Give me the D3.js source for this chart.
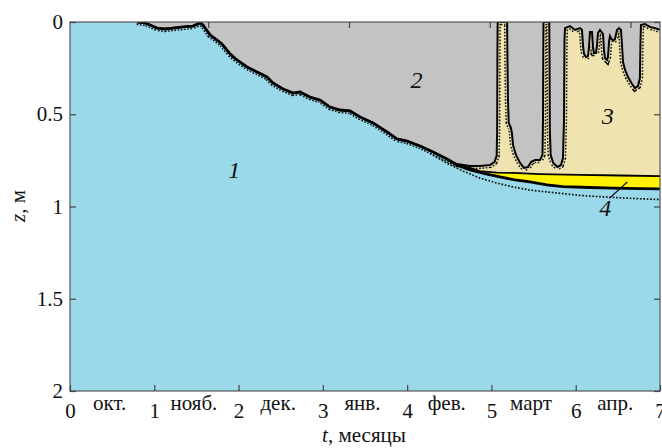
<!DOCTYPE html>
<html><head><meta charset="utf-8">
<script src="https://cdn.jsdelivr.net/npm/d3@7"></script>
<style>body{margin:0;background:#fff}svg{display:block}text{font-family:"Liberation Serif","Times New Roman",serif;fill:#111}</style>
</head><body><svg id="c" width="662" height="448"></svg>
<script>
// ---- data ----
const monthLabels = ["окт.","нояб.","дек.","янв.","фев.","март","апр."];
const xTicks = [0,1,2,3,4,5,6,7];
const yTicks = [0,0.5,1,1.5,2];
const topTicks = [1.64,3.31,4.98,6.65];
// ice bottom (ice/water interface), [t months, z m]
const iceBottom = [[0,0],[0.795,0],[0.890,0.005],[0.949,0.016],[1.032,0.033],[1.127,0.038],[1.222,0.033],[1.341,0.027],[1.459,0.022],[1.542,0.005],[1.578,0.016],[1.661,0.070],[1.744,0.098],[1.803,0.119],[1.898,0.173],[1.981,0.206],[2.100,0.244],[2.219,0.271],[2.337,0.298],[2.408,0.331],[2.527,0.363],[2.646,0.385],[2.729,0.379],[2.847,0.407],[2.966,0.423],[3.085,0.461],[3.203,0.477],[3.322,0.482],[3.441,0.515],[3.595,0.547],[3.761,0.596],[3.879,0.634],[3.998,0.645],[4.152,0.672],[4.307,0.705],[4.473,0.743],[4.591,0.775],[4.745,0.802],[4.947,0.824],[5.101,0.840],[5.279,0.856],[5.457,0.867],[5.659,0.883],[5.849,0.892],[6.169,0.897],[6.442,0.900],[6.762,0.903],[7.000,0.905]];
// top of layer 4 (yellow) = bottom of layer 3
const yellowTop = [[4.591,0.775],[4.745,0.791],[4.864,0.808],[5.066,0.816],[5.256,0.818],[5.576,0.824],[6.051,0.829],[6.525,0.832],[7.000,0.835]];
// lower edge of layer 2 (grey) after t = 4.5
const greyEdge = [[4.591,0.770],[4.745,0.780],[4.864,0.780],[4.983,0.775],[5.036,0.759],[5.062,0.726],[5.068,0.585],[5.071,0.206],[5.074,0],
[5.186,0],[5.190,0.206],[5.196,0.423],[5.205,0.547],[5.232,0.575],[5.244,0.607],[5.256,0.667],[5.291,0.721],[5.339,0.764],[5.386,0.791],[5.434,0.786],[5.469,0.759],[5.517,0.748],[5.576,0.748],[5.606,0.721],[5.612,0.531],[5.615,0.206],[5.618,0],
[5.686,0],[5.689,0.206],[5.693,0.585],[5.703,0.721],[5.733,0.764],[5.783,0.786],[5.825,0.775],[5.849,0.737],[5.861,0.531],[5.867,0.098],[5.873,0.033],
[5.932,0.022],[5.991,0.043],[6.051,0.033],[6.074,0.043],[6.086,0.125],[6.098,0.173],[6.122,0.190],[6.146,0.184],[6.157,0.141],[6.169,0.054],
[6.193,0.054],[6.205,0.141],[6.217,0.168],[6.240,0.168],[6.252,0.130],[6.264,0.060],[6.288,0.043],
[6.324,0.065],[6.335,0.152],[6.347,0.195],[6.371,0.206],[6.383,0.190],[6.395,0.108],[6.407,0.076],[6.418,0.087],[6.442,0.103],[6.466,0.092],[6.490,0.043],[6.513,0.033],
[6.537,0.043],[6.549,0.125],[6.561,0.217],[6.585,0.260],[6.620,0.298],[6.668,0.336],[6.703,0.358],[6.739,0.347],[6.762,0.304],[6.768,0.125],[6.774,0.016],[6.822,0.011],[6.881,0.027],[6.940,0.033],[7.000,0.043]];
// dotted comparison curve below the ice bottom
const lowerDotted = [[4.271,0.712],[4.473,0.766],[4.663,0.808],[4.864,0.846],[5.066,0.873],[5.256,0.894],[5.457,0.911],[5.659,0.921],[5.849,0.930],[6.051,0.940],[6.442,0.951],[6.762,0.958],[7.000,0.962]];
const regionLabels = [{t:1.95,z:0.80,s:"1"},{t:4.11,z:0.315,s:"2"},{t:6.38,z:0.51,s:"3"},{t:6.35,z:1.01,s:"4"}];
const leader4 = [[6.612,0.867],[6.40,0.955]];

// ---- drawing ----
const C = {water:"#99D9EA", grey:"#C3C3C3", beige:"#EFE4B0", yellow:"#FFF200"};
const svg = d3.select("#c");
const x = d3.scaleLinear().domain([0,7]).range([70,660]);
const y = d3.scaleLinear().domain([0,2]).range([22,391]);

const greyBottom = iceBottom.filter(d=>d[0]<4.5).concat(greyEdge);
const beigeBottom = iceBottom.filter(d=>d[0]<4.59).concat(yellowTop);

svg.append("defs").append("clipPath").attr("id","pc").append("rect")
  .attr("x",x(0)).attr("y",y(0)).attr("width",x(7)-x(0)).attr("height",y(2)-y(0));
const g = svg.append("g").attr("clip-path","url(#pc)");

const area = d3.area().x(d=>x(d[0])).y0(y(0)).y1(d=>y(d[1]));
const line = d3.line().x(d=>x(d[0])).y(d=>y(d[1]));

g.append("rect").attr("x",x(0)).attr("y",y(0)).attr("width",x(7)-x(0)).attr("height",y(2)-y(0)).attr("fill",C.water);
g.append("path").datum(iceBottom).attr("d",area).attr("fill",C.yellow);
g.append("path").datum(beigeBottom).attr("d",area).attr("fill",C.beige);

// dotted outlines
g.append("path").datum(lowerDotted).attr("d",line).attr("fill","none").attr("stroke","#111").attr("stroke-width",1.7).attr("stroke-dasharray","1.7,1.7");
g.append("path").datum(greyBottom.slice(1)).attr("d",line).attr("fill","none").attr("stroke","#111").attr("stroke-width",6.4).attr("stroke-dasharray","1.6,1.6");
g.append("path").datum(iceBottom.filter(d=>d[0]<4.5).slice(1)).attr("d",line).attr("fill","none").attr("stroke",C.water).attr("stroke-width",3.4);
g.append("path").datum(greyEdge).attr("d",line).attr("fill","none").attr("stroke",C.beige).attr("stroke-width",3.4);

g.append("path").datum(greyBottom).attr("d",area).attr("fill",C.grey);

// solid boundaries
g.append("path").datum(yellowTop).attr("d",line).attr("fill","none").attr("stroke","#000").attr("stroke-width",1.8);
g.append("path").datum(greyBottom.slice(1)).attr("d",line).attr("fill","none").attr("stroke","#000").attr("stroke-width",2);
g.append("path").datum(iceBottom.slice(1)).attr("d",line).attr("fill","none").attr("stroke","#000").attr("stroke-width",2.8);

// region labels
svg.selectAll("text.rl").data(regionLabels).join("text").attr("class","rl")
  .attr("x",d=>x(d.t)).attr("y",d=>y(d.z)).attr("text-anchor","middle").attr("dominant-baseline","central")
  .attr("font-size",24).attr("font-style","italic").text(d=>d.s);
svg.append("path").datum(leader4).attr("d",line).attr("stroke","#111").attr("stroke-width",1.2).attr("fill","none");

// frame
svg.append("rect").attr("x",x(0)).attr("y",y(0)).attr("width",x(7)-x(0)).attr("height",y(2)-y(0))
  .attr("fill","none").attr("stroke","#555").attr("stroke-width",1.2);

// axes
function style(sel){ sel.select(".domain").remove(); sel.selectAll(".tick line").attr("stroke","#444").attr("stroke-width",1.2);
  sel.selectAll("text").attr("font-family","Liberation Serif, serif").attr("font-size",21).attr("fill","#111"); }
svg.append("g").attr("transform",`translate(0,${y(2)})`)
  .call(d3.axisBottom(x).tickValues(xTicks).tickSizeInner(-6).tickSizeOuter(0).tickPadding(12).tickFormat(d=>String(d))).call(style);
svg.append("g").attr("transform",`translate(0,${y(0)})`)
  .call(d3.axisTop(x).tickValues(topTicks).tickSizeInner(-6).tickSizeOuter(0).tickFormat("")).call(style);
svg.append("g").attr("transform",`translate(${x(0)},0)`)
  .call(d3.axisLeft(y).tickValues(yTicks).tickSizeInner(-6).tickSizeOuter(0).tickPadding(7).tickFormat(d=>String(d))).call(style);
svg.append("g").attr("transform",`translate(${x(7)},0)`)
  .call(d3.axisRight(y).tickValues(yTicks).tickSizeInner(-6).tickSizeOuter(0).tickFormat("")).call(style);

// month labels
svg.selectAll("text.ml").data(monthLabels).join("text").attr("class","ml")
  .attr("x",(d,i)=>x(i+0.47)).attr("y",410).attr("text-anchor","middle").attr("font-size",21).text(d=>d);

// axis titles
const xt = svg.append("text").attr("x",364).attr("y",442).attr("text-anchor","middle").attr("font-size",21);
xt.append("tspan").attr("font-style","italic").text("t");
xt.append("tspan").text(", месяцы");
const yt = svg.append("text").attr("transform","translate(25,206) rotate(-90)").attr("text-anchor","middle").attr("font-size",21);
yt.append("tspan").attr("font-style","italic").text("z");
yt.append("tspan").text(", м");
</script></body></html>
